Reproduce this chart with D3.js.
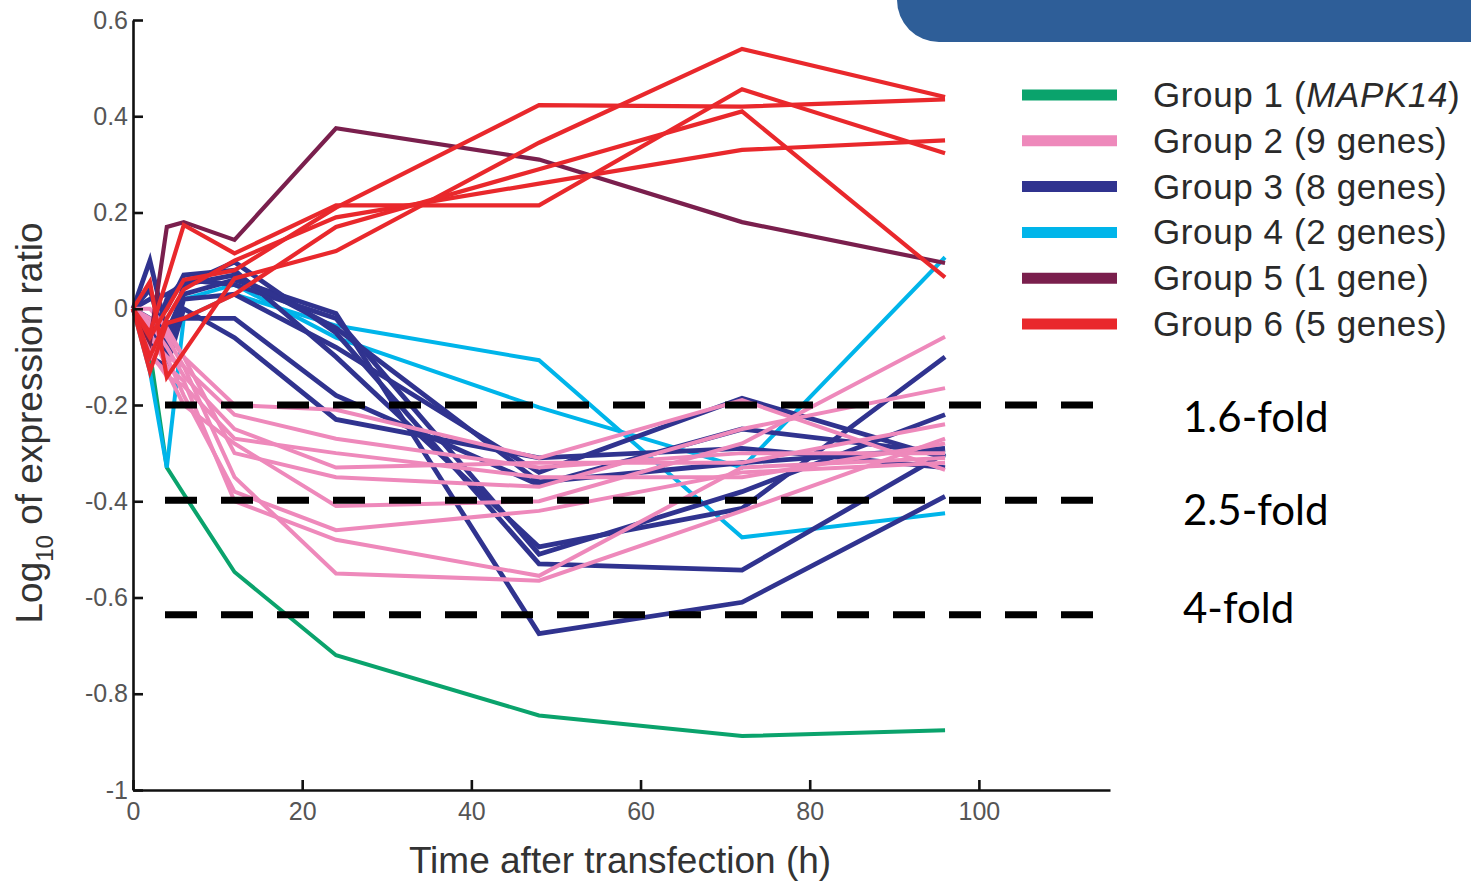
<!DOCTYPE html>
<html>
<head>
<meta charset="utf-8">
<script src="https://cdn.jsdelivr.net/npm/d3@7"></script>
<style>
    body { margin: 0; background: #fff; }
    svg { display: block; }
</style>
</head>
<body>
<svg id="chart" width="1471" height="883"></svg>
<script>
(function () {
    'use strict';

    // sampling times (h)
    let times = [0, 2, 4, 6, 12, 24, 48, 72, 96];

    // log10 expression ratio per gene, one row per gene
    let group1 = [
        [0, -0.09, -0.33, -0.385, -0.547, -0.72, -0.845, -0.888, -0.876]
    ];
    let group2 = [
        [0, -0.02, -0.06, -0.12, -0.35, -0.55, -0.565, -0.42, -0.27],
        [0, -0.05, -0.12, -0.15, -0.40, -0.48, -0.555, -0.33, -0.31],
        [0, -0.08, -0.10, -0.18, -0.38, -0.46, -0.42, -0.34, -0.32],
        [0, -0.10, -0.13, -0.20, -0.28, -0.41, -0.40, -0.28, -0.058],
        [0, 0.00, -0.04, -0.10, -0.30, -0.35, -0.37, -0.25, -0.165],
        [0, -0.03, -0.08, -0.14, -0.25, -0.33, -0.32, -0.32, -0.24],
        [0, -0.06, -0.10, -0.12, -0.22, -0.27, -0.33, -0.30, -0.30],
        [0, -0.04, -0.05, -0.10, -0.20, -0.21, -0.31, -0.19, -0.335],
        [0, -0.09, -0.14, -0.16, -0.27, -0.30, -0.35, -0.35, -0.28]
    ];
    let group3 = [
        [0, 0.10, -0.05, 0.03, 0.06, -0.01, -0.675, -0.61, -0.39],
        [0, 0.04, -0.08, 0.05, 0.097, -0.05, -0.53, -0.543, -0.30],
        [0, -0.04, 0.00, 0.07, 0.08, -0.10, -0.495, -0.415, -0.10],
        [0, -0.08, 0.02, 0.06, 0.05, -0.02, -0.51, -0.38, -0.22],
        [0, -0.02, -0.10, 0.02, 0.03, -0.08, -0.34, -0.186, -0.31],
        [0, -0.06, -0.03, -0.02, -0.02, -0.18, -0.366, -0.25, -0.30],
        [0, -0.10, -0.12, 0.00, -0.06, -0.23, -0.31, -0.29, -0.33],
        [0, 0.02, 0.03, 0.05, 0.07, -0.04, -0.36, -0.32, -0.29]
    ];
    let group4 = [
        [0, -0.13, -0.33, -0.02, 0.03, -0.035, -0.107, -0.475, -0.425],
        [0, -0.03, -0.06, 0.02, 0.05, -0.06, -0.205, -0.33, 0.107]
    ];
    let group5 = [
        [0, -0.07, 0.17, 0.18, 0.143, 0.375, 0.31, 0.18, 0.095]
    ];
    let group6 = [
        [0, 0.056, -0.142, -0.09, 0.063, 0.12, 0.345, 0.54, 0.44],
        [0, -0.06, 0.00, 0.06, 0.08, 0.21, 0.423, 0.42, 0.435],
        [0, -0.10, -0.02, 0.04, 0.10, 0.19, 0.26, 0.33, 0.35],
        [0, -0.05, 0.06, 0.174, 0.115, 0.215, 0.215, 0.456, 0.323],
        [0, -0.13, -0.03, -0.02, 0.03, 0.17, 0.29, 0.41, 0.065]
    ];

    let groupNames = ['Group 1 (', 'Group 2 (9 genes)', 'Group 3 (8 genes)',
        'Group 4 (2 genes)', 'Group 5 (1 gene)', 'Group 6 (5 genes)'];
    let groupColors = ['#0aa36c', '#ee89bb', '#30338f', '#00b5ea', '#7a1f4d', '#e9282c'];
    let groups = [group1, group2, group3, group4, group5, group6];

    // fold-change reference lines (drawn level) and where their labels sit
    let foldLevels = [-0.2, -0.398, -0.636];
    let foldLabelLevels = [-0.204, -0.398, -0.602];
    let foldLabels = ['1.6-fold', '2.5-fold', '4-fold'];

    let xTicks = [0, 20, 40, 60, 80, 100];
    let yTicks = [-1, -0.8, -0.6, -0.4, -0.2, 0, 0.2, 0.4, 0.6];

    let svg = d3.select('#chart');

    // slide banner in top-right corner
    svg.append('path')
        .attr('d', 'M897,0 H1471 V42 H939 A42,42 0 0 1 897,0 Z')
        .style('fill', '#2e5e98');

    let x = d3.scaleLinear().domain([0, 115.5]).range([133, 1110]);
    let y = d3.scaleLinear().domain([-1, 0.6]).range([790, 20]);

    let line = d3.line()
        .x(function (d, i) { return x(times[i]); })
        .y(function (d) { return y(d); });

    // draw order: green, cyan, navy, pink, purple, red
    let drawOrder = [0, 3, 2, 1, 4, 5];
    let widths = [4, 4, 4.8, 4, 4.2, 4.2];
    drawOrder.forEach(function (g) {
        svg.append('g')
            .selectAll('path')
            .data(groups[g])
            .enter()
            .append('path')
            .attr('d', line)
            .style('fill', 'none')
            .style('stroke', groupColors[g])
            .style('stroke-width', widths[g])
            .style('stroke-linejoin', 'miter');
    });

    // axes
    let xAxis = d3.axisBottom(x)
        .tickValues(xTicks)
        .tickSizeInner(-10)
        .tickSizeOuter(0)
        .tickPadding(12)
        .tickFormat(function (d) { return String(d); });
    let yAxis = d3.axisLeft(y)
        .tickValues(yTicks)
        .tickSizeInner(-10)
        .tickSizeOuter(0)
        .tickPadding(5)
        .tickFormat(function (d) { return String(+d.toFixed(1)); });

    let gx = svg.append('g')
        .attr('transform', 'translate(0,' + y(-1) + ')')
        .call(xAxis);
    let gy = svg.append('g')
        .attr('transform', 'translate(' + x(0) + ',0)')
        .call(yAxis);

    [gx, gy].forEach(function (g) {
        g.select('.domain').style('stroke', '#111').style('stroke-width', 2.6);
        g.selectAll('.tick line').style('stroke', '#111').style('stroke-width', 2.6);
        g.selectAll('.tick text')
            .style('font-family', '"Liberation Sans", Arial, sans-serif')
            .style('font-size', '25px')
            .style('fill', '#555');
    });

    // dashed fold lines
    svg.append('g')
        .selectAll('line')
        .data(foldLevels)
        .enter()
        .append('line')
        .attr('x1', 165)
        .attr('x2', 1095)
        .attr('y1', function (d) { return y(d); })
        .attr('y2', function (d) { return y(d); })
        .style('stroke', '#000')
        .style('stroke-width', 7)
        .style('stroke-dasharray', '32,24');

    svg.append('g')
        .selectAll('text')
        .data(foldLabels)
        .enter()
        .append('text')
        .attr('x', 1183)
        .attr('y', function (d, i) { return y(foldLabelLevels[i]) + 25; })
        .text(function (d) { return d; })
        .style('font-family', 'Lato, "Open Sans", sans-serif')
        .style('font-size', '42px')
        .style('fill', '#000');

    // axis titles
    svg.append('text')
        .attr('x', 620)
        .attr('y', 873)
        .attr('text-anchor', 'middle')
        .text('Time after transfection (h)')
        .style('font-family', '"Liberation Sans", Arial, sans-serif')
        .style('font-size', '37px')
        .style('fill', '#333');

    let yTitle = svg.append('text')
        .attr('transform', 'translate(42,423) rotate(-90)')
        .attr('text-anchor', 'middle')
        .style('font-family', '"Liberation Sans", Arial, sans-serif')
        .style('font-size', '37px')
        .style('fill', '#333');
    yTitle.append('tspan').text('Log');
    yTitle.append('tspan').attr('dy', 11).style('font-size', '24px').text('10');
    yTitle.append('tspan').attr('dy', -11).text(' of expression ratio');

    // legend
    let legend = svg.append('g');
    let rowY = d3.scaleLinear().domain([0, 5]).range([95, 324]);
    groupNames.forEach(function (name, i) {
        legend.append('line')
            .attr('x1', 1022)
            .attr('x2', 1117)
            .attr('y1', rowY(i))
            .attr('y2', rowY(i))
            .style('stroke', groupColors[i])
            .style('stroke-width', 11);
        let t = legend.append('text')
            .attr('x', 1153)
            .attr('y', rowY(i) + 12)
            .style('font-family', '"Liberation Sans", Arial, sans-serif')
            .style('font-size', '35px')
            .style('letter-spacing', '0.6px')
            .style('fill', '#2a2a2a');
        t.append('tspan').text(name);
        if (i === 0) {
            t.append('tspan').style('font-style', 'italic').text('MAPK14');
            t.append('tspan').text(')');
        }
    });
})();
</script>
</body>
</html>
